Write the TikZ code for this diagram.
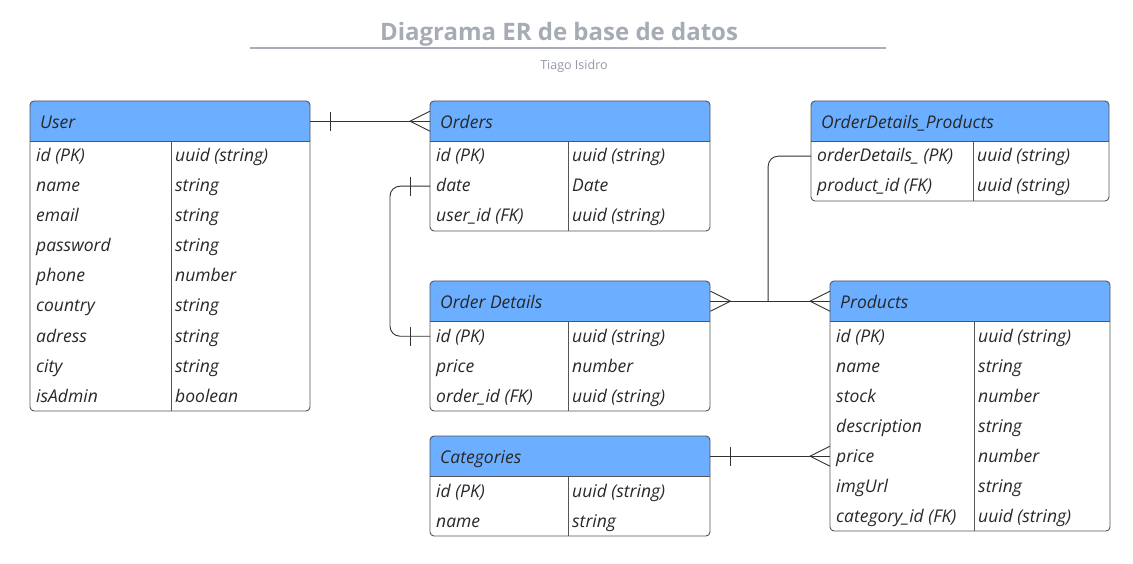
\documentclass[tikz,border=0pt]{standalone}
\usepackage{fontspec}
\setmainfont{Open Sans}
\usetikzlibrary{calc}
\definecolor{hdrblue}{RGB}{108,174,255}
\definecolor{tabgray}{RGB}{85,85,85}
\definecolor{txtdark}{RGB}{40,40,40}
\definecolor{titlegray}{RGB}{166,171,181}
\definecolor{conngray}{RGB}{50,50,50}
\tikzset{
  tabline/.style={draw=tabgray, line width=0.9pt},
  celltext/.style={font=\fontsize{17.5}{20}\selectfont\itshape, text=txtdark, inner sep=0pt, anchor=base west},
  hdrtext/.style={font=\fontsize{17.5}{20}\selectfont\itshape, text=txtdark, inner sep=0pt, anchor=base west},
  conn/.style={draw=conngray, line width=0.9pt},
}
% #1 name, #2 x, #3 y, #4 width, #5 divider offset, #6 title, #7 rows, #8 number of rows
\newcommand\ERtab[8]{%
  \begin{scope}[shift={(#2,#3)}]
    \fill[hdrblue] (0,40) [rounded corners=4pt]-- (0,0) -- (#4,0) [sharp corners]-- (#4,40) -- cycle;
    \draw[tabline, rounded corners=4pt] (0,0) rectangle (#4,40+30*#8);
    \draw[tabline] (0,40) -- (#4,40);
    \draw[tabline] (#5,40) -- (#5,40+30*#8);
    \node[minimum width=#4pt, minimum height=40pt, inner sep=0pt, anchor=north west] (#1) at (0,0) {};
    \node[hdrtext] (#1-t) at (10,27.5) {#6};
    \foreach \a/\b [count=\i] in {#7} {
      \node[minimum width=#4pt, minimum height=30pt, inner sep=0pt, anchor=north west] (#1-\i) at (0,{10+30*\i}) {};
      \node[celltext] (#1-\i a) at (6,{31+30*\i}) {\a};
      \node[celltext] (#1-\i b) at ({#5+4},{31+30*\i}) {\b};
    }
  \end{scope}}
\begin{document}
\begin{tikzpicture}[x=1pt, y=-1pt]
\useasboundingbox (0,0) rectangle (1133,564);
\fill[white] (0,0) rectangle (1133,564);
% title
\node[font=\fontsize{24}{28}\selectfont\bfseries, text=titlegray, inner sep=0pt] (title) at (559,34) {Diagrama ER de base de datos};
\coordinate (rulel) at (250,48);
\coordinate (ruler) at (886,48);
\draw[titlegray, line width=1.6pt] (rulel) -- (ruler);
\node[font=\fontsize{12.5}{14}\selectfont, text=titlegray!90!black, inner sep=0pt] (author) at (574,66.5) {Tiago Isidro};
% tables
\ERtab{user}{30}{101}{280}{141}{User}{id (PK)/uuid (string), name/string, email/string, password/string, phone/number, country/string, adress/string, city/string, isAdmin/boolean}{9}
\ERtab{orders}{430}{101}{280}{138}{Orders}{id (PK)/uuid (string), date/Date, user\_id (FK)/uuid (string)}{3}
\ERtab{odp}{811}{101}{298}{162}{OrderDetails\_Products}{orderDetails\_ (PK)/uuid (string), product\_id (FK)/uuid (string)}{2}
\ERtab{odet}{430}{281}{280}{138}{Order Details}{id (PK)/uuid (string), price/number, order\_id (FK)/uuid (string)}{3}
\ERtab{prod}{830}{281}{280}{144}{Products}{id (PK)/uuid (string), name/string, stock/number, description/string, price/number, imgUrl/string, category\_id (FK)/uuid (string)}{7}
\ERtab{cat}{430}{436}{280}{138}{Categories}{id (PK)/uuid (string), name/string}{2}
% User -- Orders (one to many)
\draw[conn] (user.east) -- (orders.west);
\draw[conn] ([xshift=20pt]user.east) ++(0,-9.5) -- ++(0,19);
\draw[conn] (orders.west) ++(0,-10) -- ++(-20,10) -- ++(20,10);
% Orders.date -- OrderDetails.id (one to one)
\draw[conn, rounded corners=10pt] (orders-2.west) -- ++(-40,0) |- (odet-1.west);
\draw[conn] ([xshift=-20pt]orders-2.west) ++(0,-9.5) -- ++(0,19);
\draw[conn] ([xshift=-20pt]odet-1.west) ++(0,-9.5) -- ++(0,19);
% Order Details -- Products (many to many)
\draw[conn] (odet.east) -- (prod.west);
\draw[conn] (odet.east) ++(0,-10) -- ++(20,10) -- ++(-20,10);
\draw[conn] (prod.west) ++(0,-10) -- ++(-20,10) -- ++(20,10);
\coordinate (junc) at ($(odet.east)!0.483!(prod.west)$);
\draw[conn, rounded corners=10pt] (odp-1.west) -| (junc);
% Categories -- Products.price (one to many)
\draw[conn] (cat.east) -- (prod-5.west);
\draw[conn] ([xshift=20pt]cat.east) ++(0,-9.5) -- ++(0,19);
\draw[conn] (prod-5.west) ++(0,-10) -- ++(-20,10) -- ++(20,10);
\end{tikzpicture}
\end{document}
